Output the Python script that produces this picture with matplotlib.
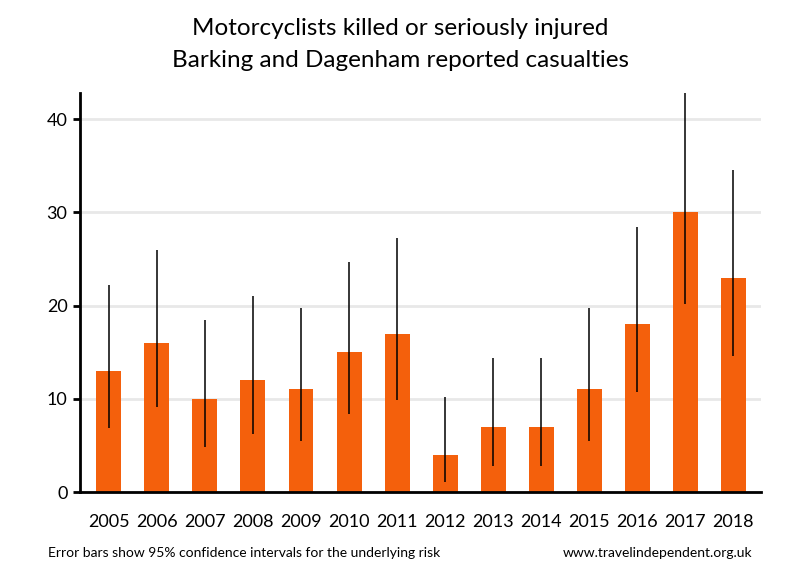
import matplotlib
matplotlib.use("Agg")
import matplotlib.pyplot as plt
import numpy as np

years = ["2005", "2006", "2007", "2008", "2009", "2010", "2011", "2012", "2013", "2014", "2015", "2016", "2017", "2018"]
casualties = [13, 16, 10, 12, 11, 15, 17, 4, 7, 7, 11, 18, 30, 23]
ci_low = [6.9, 9.1, 4.8, 6.2, 5.5, 8.4, 9.9, 1.1, 2.8, 2.8, 5.5, 10.7, 20.2, 14.6]
ci_high = [22.2, 26.0, 18.4, 21.0, 19.7, 24.7, 27.2, 10.2, 14.4, 14.4, 19.7, 28.4, 42.8, 34.5]
yticks = [0, 10, 20, 30, 40]

plt.rcParams['font.family'] = ['Lato', 'DejaVu Sans']

fig = plt.figure(figsize=(8, 5.8), dpi=100)
ax = fig.add_axes([0.1, 0.1517, 0.851, 0.688])

x = np.arange(len(years))
ax.bar(x, casualties, width=0.52, color="#F4600C", zorder=2)
ax.vlines(x, ci_low, ci_high, color="black", linewidth=1.1, zorder=3)

ax.set_xlim(-0.6, 13.57)
ax.set_ylim(0, 42.8)
ax.set_yticks(yticks)
ax.set_xticks(x)
ax.set_xticklabels(years)
ax.yaxis.grid(True, color="#e8e8e8", linewidth=2, zorder=0)
ax.set_axisbelow(True)
for s in ["top", "right"]:
    ax.spines[s].set_visible(False)
ax.spines["left"].set_linewidth(2)
ax.spines["bottom"].set_linewidth(2)
ax.tick_params(axis="y", length=5, width=2, labelsize=13, pad=4)
ax.tick_params(axis="x", length=0, labelsize=13, pad=16)

fig.text(0.5, 0.951, "Motorcyclists killed or seriously injured", ha="center", va="center", fontsize=17.5)
fig.text(0.5, 0.896, "Barking and Dagenham reported casualties", ha="center", va="center", fontsize=17.5)
fig.text(0.06, 0.046, "Error bars show 95% confidence intervals for the underlying risk", ha="left", va="center", fontsize=10)
fig.text(0.94, 0.046, "www.travelindependent.org.uk", ha="right", va="center", fontsize=10)

fig.savefig("out.png", dpi=100)
